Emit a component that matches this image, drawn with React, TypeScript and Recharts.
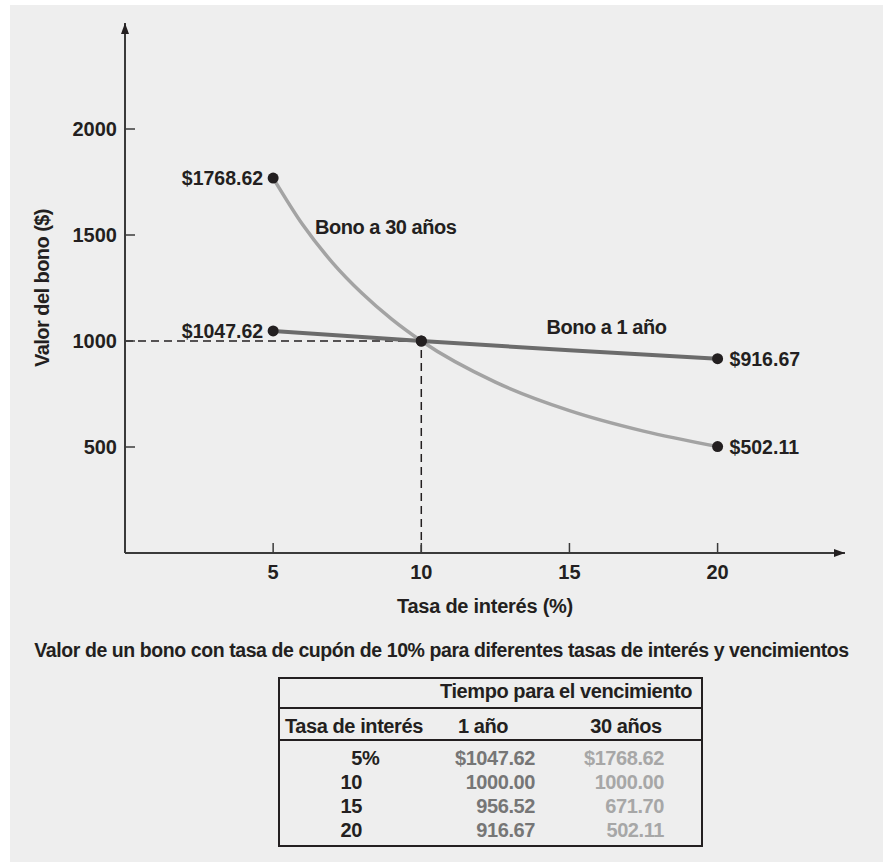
import React from 'react';
import { LineChart, Line, XAxis, YAxis, ReferenceLine, ReferenceDot, LabelList, Label } from 'recharts';

// table values: bond with 10% coupon, by interest rate
const rates = [5, 10, 15, 20];
const oneYearValues = [1047.62, 1000.0, 956.52, 916.67];
const thirtyYearValues = [1768.62, 1000.0, 671.7, 502.11];
const rateLabels = ['5%', '10', '15', '20'];

// extra points (it bends hard between 5 and 10)
const thirtyYearCurveRates = [5, 6, 7, 8, 9, 10, 12.5, 15, 17.5, 20];
const thirtyYearCurveValues = [1768.62, 1548, 1370, 1225, 1103, 1000, 806, 671.7, 575, 502.11];

const xTicks = [5, 10, 15, 20];
const yTicks = [500, 1000, 1500, 2000];
const markedRates = [5, 10, 20];
const parRate = 10;
const parValue = 1000;

const oneYearData = rates.map((rate, i) => ({ rate, value: oneYearValues[i] }));
const thirtyYearData = thirtyYearCurveRates.map((rate, i) => ({ rate, value: thirtyYearCurveValues[i] }));

const FONT = "'Liberation Sans', Arial, sans-serif";
const INK = '#231f20';
const X_MAX = 24.3;
const Y_MAX = 2500;

const fmtMoney = (v: number) => '$' + v.toFixed(2);
const fmtNum = (v: number) => v.toFixed(2);

const Marker = (props: any) => {
  const { cx, cy, payload, index } = props;
  if (!markedRates.includes(payload.rate)) return <g key={`n-${index}`} />;
  return <circle key={`d-${index}`} cx={cx} cy={cy} r={5.5} fill={INK} />;
};

const makeEndLabel = (xs: number[]) => (props: any) => {
  const { x, y, value, index } = props;
  const rate = xs[index];
  const first = xs[0];
  const last = xs[xs.length - 1];
  if (rate !== first && rate !== last) return null;
  const left = rate === first;
  return (
    <text
      key={`l-${index}`}
      x={left ? x - 10 : x + 12}
      y={y}
      dy="0.36em"
      textAnchor={left ? 'end' : 'start'}
      fill={INK}
      fontSize={19.5}
      fontWeight={700}
      fontFamily={FONT}
    >
      {fmtMoney(value)}
    </text>
  );
};

const ArrowRight = (props: any) => {
  const { cx, cy } = props;
  return <path d={`M${cx},${cy} L${cx - 11},${cy - 4} L${cx - 11},${cy + 4} Z`} fill={INK} />;
};
const ArrowUp = (props: any) => {
  const { cx, cy } = props;
  return <path d={`M${cx},${cy} L${cx - 4},${cy + 11} L${cx + 4},${cy + 11} Z`} fill={INK} />;
};

const tickStyle = { fill: INK, fontSize: 20, fontWeight: 700, fontFamily: FONT };
const wordStyle = { fill: INK, fontSize: 20, fontWeight: 700, fontFamily: FONT, letterSpacing: -0.45 };

// absolutely placed table text; top = cap centre - 9.8 at 20px, line-height 1
const T: React.CSSProperties = {
  position: 'absolute',
  fontSize: 20,
  lineHeight: '20px',
  fontWeight: 700,
  letterSpacing: -0.42,
  whiteSpace: 'nowrap',
};
const rowCentres = [757.5, 781.5, 805.5, 829.5];
const CAP_MID = 9.8;

export default function App() {
  return (
    <div style={{ position: 'absolute', left: 0, top: 0, width: 883, height: 862, background: '#fff', fontFamily: FONT, color: INK }}>
      <div style={{ position: 'absolute', left: 10, top: 5, width: 873, height: 857, background: '#eeeeee' }} />
      <div style={{ position: 'absolute', left: 0, top: 0 }}>
        <LineChart width={883} height={640} margin={{ top: 23, right: 38, bottom: 57, left: 65 }}>
          <XAxis
            type="number"
            dataKey="rate"
            domain={[0, X_MAX]}
            ticks={xTicks}
            interval={0}
            height={30}
            tickSize={-10}
            tickMargin={22}
            axisLine={{ stroke: '#3a3a3a', strokeWidth: 2 }}
            tickLine={{ stroke: '#3a3a3a', strokeWidth: 1.5 }}
            tick={tickStyle}
          >
            <Label
              content={(p: any) => {
                const vb = p.viewBox;
                return (
                  <text x={vb.x + vb.width / 2} y={vb.y + 60} textAnchor="middle" {...wordStyle} letterSpacing={-0.25}>
                    Tasa de interés (%)
                  </text>
                );
              }}
            />
          </XAxis>
          <YAxis
            type="number"
            dataKey="value"
            domain={[0, Y_MAX]}
            ticks={yTicks}
            interval={0}
            width={60}
            tickSize={-10}
            tickMargin={18}
            axisLine={{ stroke: '#3a3a3a', strokeWidth: 2 }}
            tickLine={{ stroke: '#3a3a3a', strokeWidth: 1.5 }}
            tick={tickStyle}
          >
            <Label
              content={(p: any) => {
                const vb = p.viewBox;
                const cx = vb.x - 23;
                const cy = vb.y + vb.height / 2;
                return (
                  <text x={cx} y={cy} transform={`rotate(-90 ${cx} ${cy})`} textAnchor="middle" dy="0.36em" {...wordStyle} letterSpacing={-0.55}>
                    Valor del bono ($)
                  </text>
                );
              }}
            />
          </YAxis>
          <ReferenceLine segment={[{ x: 0, y: parValue }, { x: parRate, y: parValue }]} stroke={INK} strokeWidth={1.5} strokeDasharray="8 5" />
          <ReferenceLine segment={[{ x: parRate, y: 0 }, { x: parRate, y: parValue }]} stroke={INK} strokeWidth={1.5} strokeDasharray="8 5" />
          <Line
            data={thirtyYearData}
            type="monotone"
            dataKey="value"
            stroke="#a3a3a3"
            strokeWidth={3.5}
            dot={Marker}
            activeDot={false}
            isAnimationActive={false}
          >
            <LabelList dataKey="value" content={makeEndLabel(thirtyYearCurveRates)} />
          </Line>
          <Line
            data={oneYearData}
            type="monotone"
            dataKey="value"
            stroke="#6b6b6b"
            strokeWidth={4}
            dot={Marker}
            activeDot={false}
            isAnimationActive={false}
          >
            <LabelList dataKey="value" content={makeEndLabel(rates)} />
          </Line>
          <ReferenceDot x={8.8} y={1540} r={0} fill="none" stroke="none" label={{ value: 'Bono a 30 años', position: 'center', ...wordStyle }} />
          <ReferenceDot x={16.25} y={1066} r={0} fill="none" stroke="none" label={{ value: 'Bono a 1 año', position: 'center', ...wordStyle }} />
          <ReferenceDot x={X_MAX} y={0} r={0} shape={ArrowRight} />
          <ReferenceDot x={0} y={Y_MAX} r={0} shape={ArrowUp} />
        </LineChart>
      </div>

      <div style={{ ...T, fontSize: 19.5, lineHeight: '19.5px', left: 0, top: 641, width: 883, textAlign: 'center', letterSpacing: -0.42 }}>
        Valor de un bono con tasa de cupón de 10% para diferentes tasas de interés y vencimientos
      </div>

      {/* table */}
      <div style={{ position: 'absolute', left: 278, top: 677, width: 421, height: 166, border: `2px solid ${INK}` }} />
      <div style={{ position: 'absolute', left: 278, top: 707, width: 425, height: 2, background: INK }} />
      <div style={{ position: 'absolute', left: 278, top: 739, width: 425, height: 2, background: INK }} />
      <div style={{ ...T, left: 440, top: 691 - CAP_MID }}>Tiempo para el vencimiento</div>
      <div style={{ ...T, left: 285, top: 725.5 - CAP_MID }}>Tasa de interés</div>
      <div style={{ ...T, left: 433, width: 100, top: 725.5 - CAP_MID, textAlign: 'center' }}>1 año</div>
      <div style={{ ...T, left: 576, width: 100, top: 725.5 - CAP_MID, textAlign: 'center' }}>30 años</div>
      {rates.map((r, i) => {
        const top = rowCentres[i] - CAP_MID;
        const num = rateLabels[i].replace('%', '');
        const pct = rateLabels[i].includes('%');
        return (
          <React.Fragment key={r}>
            <div style={{ ...T, left: 322, width: 40, top, textAlign: 'right' }}>{num}</div>
            {pct && <div style={{ ...T, left: 362, top }}>%</div>}
            <div style={{ ...T, left: 435, width: 100, top, textAlign: 'right', color: '#767676' }}>
              {i === 0 ? fmtMoney(oneYearValues[i]) : fmtNum(oneYearValues[i])}
            </div>
            <div style={{ ...T, left: 564, width: 100, top, textAlign: 'right', color: '#a7a7a7' }}>
              {i === 0 ? fmtMoney(thirtyYearValues[i]) : fmtNum(thirtyYearValues[i])}
            </div>
          </React.Fragment>
        );
      })}
    </div>
  );
}
